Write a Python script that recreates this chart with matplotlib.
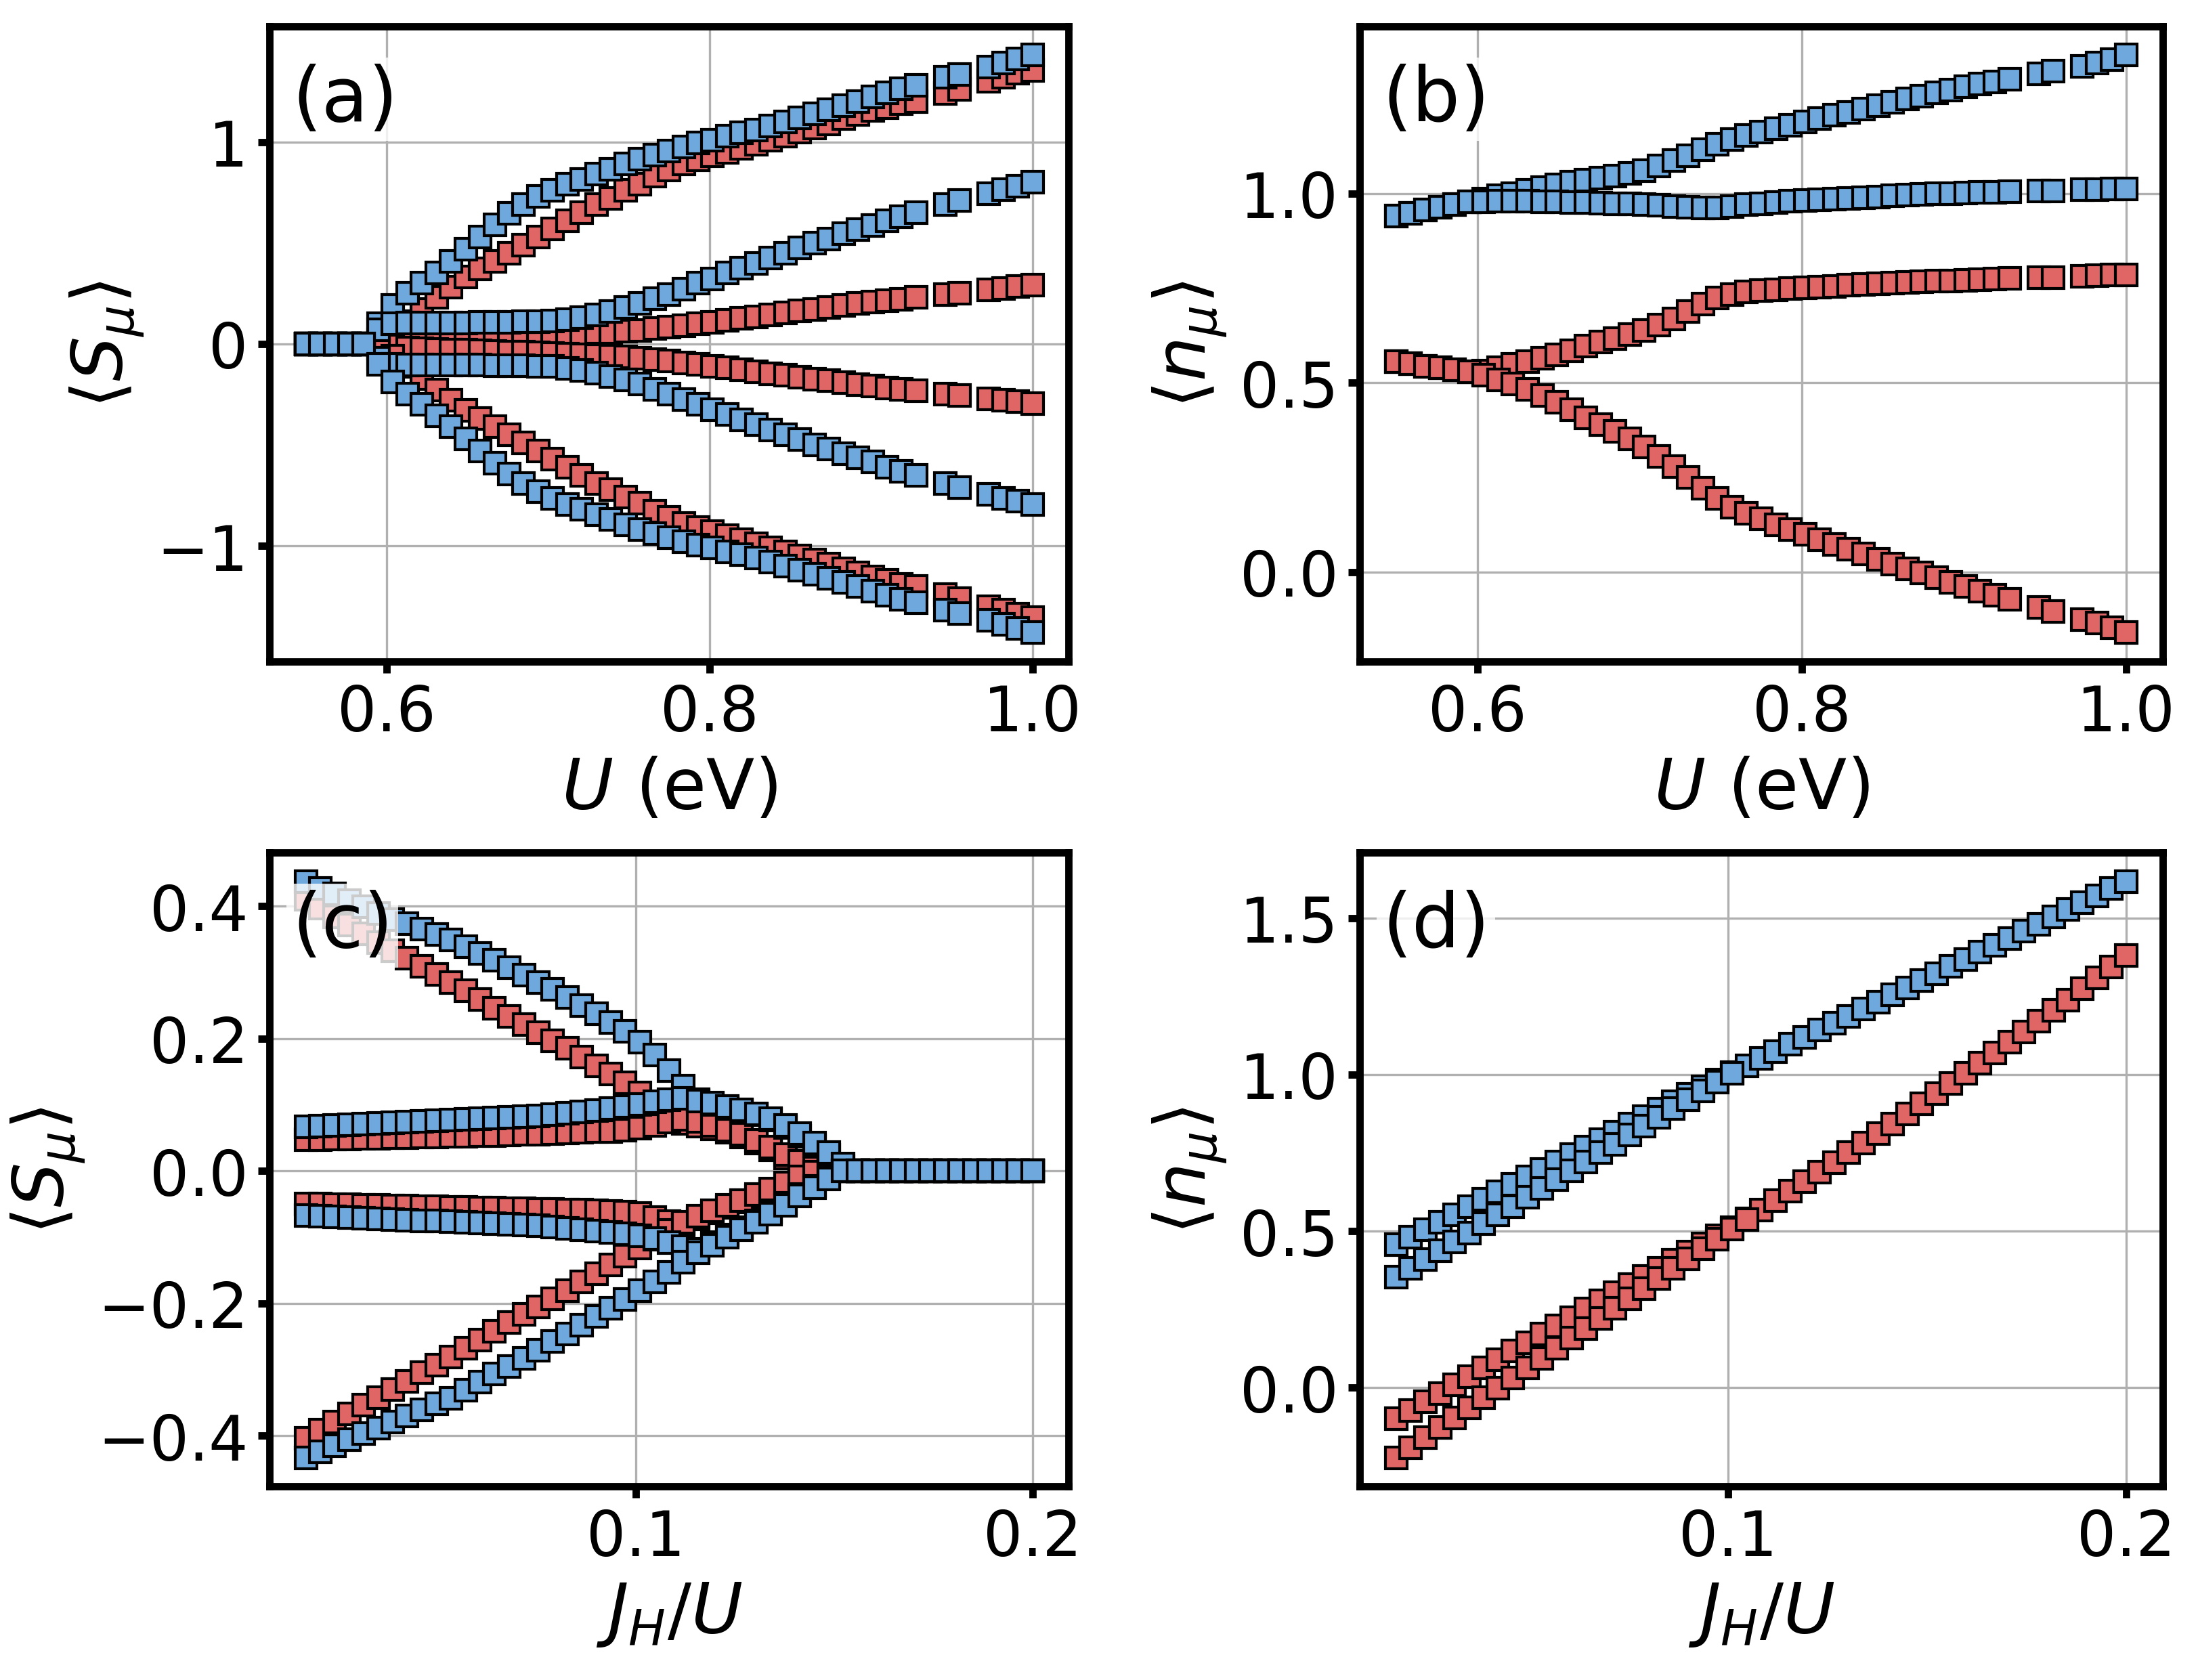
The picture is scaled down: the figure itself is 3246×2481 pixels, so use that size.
import matplotlib.pyplot as plt
import numpy as np

BLUE = '#6fa8dc'
RED = '#e06666'

# ---------------- panel (a), (b): U (eV) ----------------
x_u = [0.550, 0.559, 0.568, 0.577, 0.586, 0.595, 0.604, 0.613, 0.622, 0.631,
       0.640, 0.649, 0.658, 0.667, 0.676, 0.685, 0.694, 0.703, 0.712, 0.721,
       0.730, 0.739, 0.748, 0.757, 0.766, 0.775, 0.784, 0.793, 0.802, 0.811,
       0.820, 0.829, 0.838, 0.847, 0.856, 0.865, 0.874, 0.883, 0.892, 0.901,
       0.910, 0.919, 0.928, 0.946, 0.955, 0.973, 0.982, 0.991, 1.000]

# (a) <S_mu>
s_blue_top = [0, 0, 0, 0, 0, 0.10, 0.19, 0.25, 0.30, 0.35,
              0.41, 0.47, 0.53, 0.59, 0.645, 0.69, 0.73, 0.76, 0.79, 0.815,
              0.84, 0.865, 0.89, 0.915, 0.935, 0.955, 0.975, 0.995, 1.01, 1.03,
              1.045, 1.06, 1.08, 1.10, 1.12, 1.14, 1.16, 1.18, 1.20, 1.225,
              1.245, 1.265, 1.28, 1.32, 1.335, 1.37, 1.39, 1.41, 1.43]
s_blue_bot = [0, 0, 0, 0, 0, -0.10, -0.19, -0.25, -0.30, -0.355,
              -0.41, -0.47, -0.53, -0.59, -0.645, -0.69, -0.73, -0.765, -0.795, -0.82,
              -0.845, -0.87, -0.895, -0.92, -0.94, -0.96, -0.98, -0.995, -1.01, -1.03,
              -1.045, -1.06, -1.08, -1.10, -1.12, -1.14, -1.16, -1.18, -1.20, -1.225,
              -1.245, -1.265, -1.28, -1.32, -1.335, -1.37, -1.39, -1.41, -1.43]
s_red_top = [0, 0, 0, 0, 0, 0.02, 0.06, 0.11, 0.17, 0.23,
             0.28, 0.33, 0.37, 0.41, 0.45, 0.49, 0.53, 0.57, 0.61, 0.65,
             0.69, 0.72, 0.76, 0.79, 0.83, 0.86, 0.89, 0.91, 0.93, 0.95,
             0.97, 0.99, 1.01, 1.03, 1.05, 1.07, 1.09, 1.115, 1.135, 1.155,
             1.17, 1.19, 1.20, 1.24, 1.26, 1.30, 1.32, 1.34, 1.355]
s_red_bot = [0, 0, 0, 0, 0, -0.02, -0.06, -0.11, -0.17, -0.23,
             -0.28, -0.33, -0.37, -0.41, -0.45, -0.49, -0.53, -0.57, -0.61, -0.65,
             -0.69, -0.72, -0.76, -0.79, -0.83, -0.86, -0.89, -0.91, -0.93, -0.95,
             -0.97, -0.99, -1.01, -1.03, -1.05, -1.07, -1.09, -1.115, -1.135, -1.155,
             -1.17, -1.19, -1.20, -1.24, -1.26, -1.30, -1.32, -1.34, -1.355]
s_blue_mid_p = [0, 0, 0, 0, 0, 0.07, 0.10, 0.105, 0.105, 0.105,
                0.105, 0.105, 0.106, 0.107, 0.108, 0.109, 0.11, 0.112, 0.12, 0.13,
                0.145, 0.16, 0.18, 0.20, 0.225, 0.245, 0.27, 0.30, 0.32, 0.35,
                0.375, 0.40, 0.425, 0.45, 0.475, 0.50, 0.52, 0.545, 0.565, 0.585,
                0.61, 0.63, 0.65, 0.69, 0.71, 0.745, 0.765, 0.78, 0.80]
s_blue_mid_m = [0, 0, 0, 0, 0, -0.07, -0.10, -0.105, -0.105, -0.105,
                -0.105, -0.105, -0.106, -0.107, -0.108, -0.109, -0.11, -0.112, -0.12, -0.13,
                -0.145, -0.16, -0.18, -0.20, -0.225, -0.25, -0.275, -0.30, -0.325, -0.35,
                -0.375, -0.40, -0.425, -0.45, -0.475, -0.50, -0.52, -0.545, -0.565, -0.585,
                -0.61, -0.63, -0.65, -0.69, -0.71, -0.745, -0.765, -0.78, -0.795]
s_red_mid_p = [0, 0, 0, 0, 0, 0.005, 0.01, 0.02, 0.025, 0.028,
               0.03, 0.032, 0.035, 0.037, 0.04, 0.042, 0.045, 0.047, 0.05, 0.052,
               0.055, 0.058, 0.062, 0.068, 0.075, 0.082, 0.09, 0.10, 0.108, 0.117,
               0.126, 0.135, 0.145, 0.154, 0.163, 0.172, 0.18, 0.19, 0.20, 0.207,
               0.215, 0.222, 0.23, 0.245, 0.252, 0.268, 0.275, 0.283, 0.29]
s_red_mid_m = [0, 0, 0, 0, 0, -0.005, -0.01, -0.02, -0.025, -0.028,
               -0.03, -0.032, -0.035, -0.037, -0.04, -0.042, -0.045, -0.048, -0.051, -0.054,
               -0.057, -0.06, -0.065, -0.071, -0.078, -0.085, -0.093, -0.102, -0.11, -0.119,
               -0.128, -0.137, -0.147, -0.156, -0.165, -0.174, -0.183, -0.192, -0.202, -0.21,
               -0.218, -0.225, -0.233, -0.248, -0.256, -0.272, -0.279, -0.287, -0.295]

# (b) <n_mu>
n_blue_up = [0.940, 0.948, 0.956, 0.963, 0.970, 0.977, 0.985, 0.993, 1.000, 1.008,
             1.016, 1.023, 1.029, 1.035, 1.040, 1.045, 1.052, 1.060, 1.072, 1.086,
             1.100, 1.116, 1.130, 1.142, 1.152, 1.162, 1.171, 1.180, 1.189, 1.198,
             1.206, 1.214, 1.223, 1.231, 1.240, 1.249, 1.257, 1.265, 1.273, 1.281,
             1.288, 1.295, 1.302, 1.315, 1.322, 1.336, 1.344, 1.354, 1.365]
n_blue_lo = [0.940, 0.948, 0.956, 0.963, 0.970, 0.977, 0.978, 0.979, 0.979, 0.979,
             0.978, 0.977, 0.976, 0.975, 0.974, 0.973, 0.972, 0.970, 0.968, 0.966,
             0.963, 0.961, 0.962, 0.966, 0.970, 0.973, 0.976, 0.979, 0.981, 0.983,
             0.985, 0.987, 0.989, 0.991, 0.993, 0.995, 0.997, 0.999, 1.000, 1.001,
             1.002, 1.003, 1.004, 1.006, 1.007, 1.009, 1.010, 1.011, 1.012]
n_red_up = [0.556, 0.550, 0.544, 0.539, 0.534, 0.529, 0.530, 0.540, 0.548, 0.555,
            0.564, 0.574, 0.585, 0.596, 0.607, 0.617, 0.627, 0.638, 0.652, 0.668,
            0.688, 0.708, 0.724, 0.733, 0.739, 0.743, 0.746, 0.749, 0.751, 0.753,
            0.755, 0.757, 0.759, 0.761, 0.763, 0.765, 0.766, 0.768, 0.769, 0.771,
            0.772, 0.773, 0.775, 0.777, 0.778, 0.781, 0.782, 0.784, 0.785]
n_red_lo = [0.556, 0.550, 0.544, 0.539, 0.534, 0.529, 0.520, 0.508, 0.496, 0.483,
            0.466, 0.448, 0.428, 0.408, 0.390, 0.372, 0.352, 0.330, 0.305, 0.278,
            0.250, 0.222, 0.195, 0.172, 0.155, 0.140, 0.125, 0.112, 0.099, 0.086,
            0.073, 0.060, 0.047, 0.034, 0.021, 0.009, -0.003, -0.015, -0.027, -0.038,
            -0.050, -0.061, -0.072, -0.093, -0.104, -0.125, -0.135, -0.147, -0.160]

# ---------------- panel (c), (d): J_H/U ----------------
x_j = [0.0167, 0.0203, 0.0240, 0.0277, 0.0313, 0.0350, 0.0387, 0.0423, 0.0460, 0.0497,
       0.0533, 0.0570, 0.0607, 0.0643, 0.0680, 0.0717, 0.0753, 0.0790, 0.0827, 0.0863,
       0.0900, 0.0937, 0.0973, 0.1010, 0.1047, 0.1083, 0.1120, 0.1157, 0.1193, 0.1230,
       0.1267, 0.1303, 0.1340, 0.1377, 0.1413, 0.1450, 0.1487, 0.1523, 0.1560, 0.1597,
       0.1633, 0.1670, 0.1707, 0.1743, 0.1780, 0.1817, 0.1853, 0.1890, 0.1927, 0.1963,
       0.2000]

Z11 = [0] * 11
# (c) <S_mu>
c_blue_top = [0.437, 0.427, 0.418, 0.408, 0.399, 0.389, 0.380, 0.373, 0.365, 0.357,
              0.349, 0.339, 0.328, 0.318, 0.307, 0.296, 0.285, 0.274, 0.262, 0.250,
              0.237, 0.224, 0.211, 0.195, 0.175, 0.152, 0.128, 0.108, 0.100, 0.095,
              0.091, 0.085, 0.077, 0.066, 0.052, 0.038, 0.024, 0.006, 0, 0] + Z11
c_blue_mid_p = [0.067, 0.068, 0.069, 0.070, 0.071, 0.072, 0.073, 0.074, 0.075, 0.076,
                0.077, 0.078, 0.079, 0.080, 0.081, 0.082, 0.083, 0.085, 0.087, 0.089,
                0.091, 0.094, 0.097, 0.100, 0.104, 0.108, 0.110, 0.106, 0.102, 0.097,
                0.092, 0.086, 0.079, 0.069, 0.056, 0.042, 0.028, 0.010, 0, 0] + Z11
c_red_top = [0.410, 0.397, 0.384, 0.371, 0.358, 0.345, 0.333, 0.321, 0.309, 0.297,
             0.285, 0.272, 0.259, 0.246, 0.233, 0.221, 0.209, 0.197, 0.185, 0.172,
             0.159, 0.146, 0.133, 0.118, 0.100, 0.082, 0.072, 0.068, 0.064, 0.058,
             0.051, 0.042, 0.032, 0.020, 0.010, 0.002, 0, 0, 0, 0] + Z11
c_red_mid_p = [0.047, 0.047, 0.048, 0.048, 0.049, 0.049, 0.050, 0.050, 0.051, 0.051,
               0.052, 0.052, 0.053, 0.053, 0.054, 0.055, 0.055, 0.056, 0.057, 0.058,
               0.059, 0.060, 0.062, 0.065, 0.069, 0.074, 0.078, 0.075, 0.069, 0.062,
               0.055, 0.046, 0.036, 0.025, 0.014, 0.004, 0, 0, 0, 0] + Z11
c_blue_bot = [-0.433, -0.424, -0.415, -0.406, -0.397, -0.388, -0.379, -0.370, -0.361, -0.352,
              -0.343, -0.331, -0.319, -0.307, -0.295, -0.283, -0.271, -0.258, -0.246, -0.233,
              -0.220, -0.207, -0.194, -0.181, -0.168, -0.153, -0.138, -0.124, -0.112, -0.100,
              -0.089, -0.078, -0.065, -0.052, -0.038, -0.025, -0.012, 0, 0, 0] + Z11
c_blue_mid_m = [-0.067, -0.068, -0.069, -0.070, -0.071, -0.072, -0.073, -0.074, -0.075, -0.076,
                -0.077, -0.078, -0.079, -0.080, -0.081, -0.082, -0.083, -0.085, -0.087, -0.089,
                -0.091, -0.093, -0.095, -0.098, -0.102, -0.108, -0.114, -0.118, -0.108, -0.097,
                -0.086, -0.075, -0.062, -0.049, -0.036, -0.023, -0.010, 0, 0, 0] + Z11
c_red_bot = [-0.404, -0.392, -0.379, -0.367, -0.354, -0.342, -0.330, -0.318, -0.305, -0.293,
             -0.281, -0.268, -0.255, -0.242, -0.229, -0.217, -0.205, -0.193, -0.181, -0.168,
             -0.155, -0.142, -0.129, -0.116, -0.103, -0.090, -0.078, -0.068, -0.060, -0.052,
             -0.045, -0.036, -0.027, -0.018, -0.009, -0.002, 0, 0, 0, 0] + Z11
c_red_mid_m = [-0.050, -0.050, -0.051, -0.051, -0.052, -0.052, -0.053, -0.053, -0.054, -0.054,
               -0.055, -0.055, -0.056, -0.056, -0.057, -0.057, -0.058, -0.058, -0.059, -0.059,
               -0.060, -0.061, -0.062, -0.064, -0.070, -0.077, -0.080, -0.072, -0.063, -0.055,
               -0.047, -0.039, -0.030, -0.020, -0.011, -0.003, 0, 0, 0, 0] + Z11

# (d) <n_mu>
d_blue_up = [0.457, 0.481, 0.505, 0.529, 0.553, 0.577, 0.601, 0.625, 0.649, 0.673,
             0.697, 0.721, 0.745, 0.769, 0.793, 0.817, 0.841, 0.865, 0.889, 0.913,
             0.937, 0.960, 0.983, 1.006, 1.029, 1.051, 1.074, 1.097, 1.119, 1.142,
             1.165, 1.187, 1.210, 1.232, 1.255, 1.278, 1.300, 1.323, 1.346, 1.368,
             1.391, 1.414, 1.436, 1.459, 1.481, 1.504, 1.527, 1.549, 1.572, 1.595,
             1.617]
d_blue_lo = [0.352, 0.380, 0.409, 0.437, 0.466, 0.494, 0.523, 0.551, 0.579, 0.608,
             0.636, 0.665, 0.693, 0.721, 0.750, 0.778, 0.807, 0.835, 0.863, 0.892,
             0.920, 0.948, 0.977, 1.004]
d_red_up = [-0.100, -0.073, -0.046, -0.019, 0.008, 0.035, 0.062, 0.089, 0.116, 0.143,
            0.170, 0.197, 0.224, 0.251, 0.278, 0.304, 0.330, 0.356, 0.382, 0.408,
            0.434, 0.459, 0.484, 0.510, 0.539, 0.568, 0.598, 0.628, 0.658, 0.688,
            0.719, 0.750, 0.781, 0.812, 0.843, 0.875, 0.907, 0.939, 0.971, 1.004,
            1.037, 1.070, 1.103, 1.137, 1.171, 1.205, 1.239, 1.274, 1.309, 1.345,
            1.381]
d_red_lo = [-0.224, -0.192, -0.160, -0.128, -0.097, -0.065, -0.033, -0.001, 0.030, 0.062,
            0.094, 0.126, 0.157, 0.189, 0.221, 0.253, 0.284, 0.316, 0.348, 0.380,
            0.411, 0.443, 0.475, 0.506, 0.537]


def draw(ax, x, series, color):
    for y in series:
        ax.plot(x[:len(y)], y, ls='none', marker='s', ms=7.8,
                mfc=color, mec='black', mew=1.0, zorder=2)


def style(ax, label, xticks, yticks, xlabel, ylabel):
    ax.grid(True, zorder=0)
    ax.set_axisbelow(True)
    for sp in ax.spines.values():
        sp.set_linewidth(2.6)
    ax.tick_params(labelsize=22, width=2.6, length=4)
    ax.set_xticks(xticks)
    ax.set_yticks(yticks)
    ax.set_xlabel(xlabel, fontsize=25)
    ax.set_ylabel(ylabel, fontsize=25)
    ax.text(0.028, 0.885, label, transform=ax.transAxes, fontsize=27,
            ha='left', va='center', zorder=5,
            bbox=dict(facecolor='white', alpha=0.8, edgecolor='none', pad=2))


fig = plt.figure(figsize=(10.82, 8.2733), dpi=300)
ax_a = fig.add_axes([0.1226, 0.606, 0.3636, 0.378])
ax_b = fig.add_axes([0.6186, 0.606, 0.3654, 0.378])
ax_c = fig.add_axes([0.1226, 0.1152, 0.3636, 0.377])
ax_d = fig.add_axes([0.6186, 0.1152, 0.3654, 0.377])

draw(ax_a, x_u, [s_red_top, s_red_mid_p, s_red_mid_m, s_red_bot], RED)
draw(ax_a, x_u, [s_blue_top, s_blue_mid_p, s_blue_mid_m, s_blue_bot], BLUE)
style(ax_a, '(a)', [0.6, 0.8, 1.0], [-1, 0, 1], r'$U$ (eV)', r'$\langle S_\mu \rangle$')

draw(ax_b, x_u, [n_red_up, n_red_lo], RED)
draw(ax_b, x_u, [n_blue_up, n_blue_lo], BLUE)
style(ax_b, '(b)', [0.6, 0.8, 1.0], [0.0, 0.5, 1.0], r'$U$ (eV)', r'$\langle n_\mu \rangle$')

draw(ax_c, x_j, [c_red_top, c_red_mid_p, c_red_mid_m, c_red_bot], RED)
draw(ax_c, x_j, [c_blue_top, c_blue_mid_p, c_blue_mid_m, c_blue_bot], BLUE)
style(ax_c, '(c)', [0.1, 0.2], [-0.4, -0.2, 0.0, 0.2, 0.4], r'$J_H/U$', r'$\langle S_\mu \rangle$')

draw(ax_d, x_j, [d_red_up, d_red_lo], RED)
draw(ax_d, x_j, [d_blue_up, d_blue_lo], BLUE)
style(ax_d, '(d)', [0.1, 0.2], [0.0, 0.5, 1.0, 1.5], r'$J_H/U$', r'$\langle n_\mu \rangle$')

fig.savefig('out.png', dpi=300)
